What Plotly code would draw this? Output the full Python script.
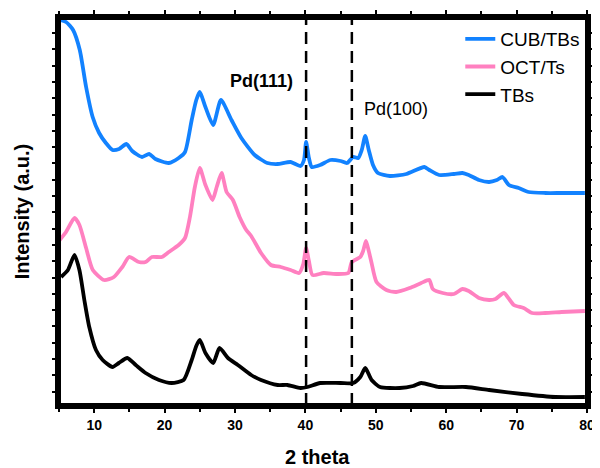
import plotly.graph_objects as go

# ---------------- data (2 theta, intensity a.u.) ----------------
cub_x = [5.1, 6.0, 7.0, 7.95, 8.85, 9.78, 10.7, 11.66, 12.6, 13.54, 14.57, 15.4, 16.8, 17.8, 18.7,
         20.6, 22.0, 22.9, 23.85, 24.5, 25.0, 25.8, 26.9, 28.0, 29.5, 30.9, 32.8, 34.6, 36.05, 37.9,
         39.3, 39.8, 40.1, 40.5, 40.9, 42.1, 43.55, 45.0, 45.9, 46.8, 47.5, 48.0, 48.5, 49.0, 49.6,
         50.3, 52.0, 54.35, 56.9, 57.6, 59.0, 61.1, 62.3, 63.2, 64.65, 66.1, 67.2, 68.0, 68.9,
         70.3, 71.7, 74.05, 76.4, 79.7]
cub_y = [386, 384, 376, 356, 319, 289, 273, 263, 256, 257, 262, 255, 249, 252, 247,
         243, 248, 254, 286, 306, 314, 299, 281, 306, 286, 268, 251, 243, 242, 244,
         240, 246, 264, 248, 239, 241, 246, 245, 243, 249, 248, 256, 270, 256, 241,
         233, 230, 232, 239, 236, 231, 232, 233, 231, 226, 224, 226, 229, 221,
         218, 214, 213, 213, 213]

oct_x = [5.1, 6.0, 7.2, 7.9, 8.85, 9.8, 11.4, 12.8, 14.0, 14.95, 16.35, 17.3, 18.2, 19.6,
         20.6, 22.0, 22.9, 23.6, 24.3, 25.0, 25.8, 26.8, 27.4, 28.1, 28.8, 29.7, 30.65, 31.6,
         32.3, 33.7, 35.1, 36.5, 37.9, 39.1, 39.7, 40.1, 40.5, 41.0, 42.6, 44.5, 46.1, 46.6,
         47.8, 48.2, 48.6, 49.0, 49.4, 50.1, 51.5, 52.9, 54.8, 56.45, 57.6, 58.1, 59.5, 61.1,
         62.3, 63.2, 64.65, 66.1, 67.0, 68.2, 69.6, 71.0, 72.2, 74.05, 76.4, 79.7]
oct_y = [166, 174, 188, 181, 158, 136, 126, 129, 139, 149, 144, 144, 149, 149,
         154, 161, 168, 189, 219, 238, 221, 206, 219, 233, 214, 206, 189, 176,
         170, 153, 141, 139, 136, 133, 142, 158, 145, 131, 133, 132, 133, 144,
         149, 155, 165, 155, 143, 124, 116, 114, 118, 123, 126, 117, 113, 112,
         117, 115, 108, 106, 107, 113, 101, 98, 93, 93, 94, 95]

tbs_x = [5.3, 6.27, 7.2, 7.9, 8.6, 9.3, 10.25, 11.2, 12.6, 13.5, 14.7, 15.9, 17.3, 19.2,
         21.0, 22.7, 23.85, 24.5, 25.0, 25.8, 26.9, 27.8, 29.0, 30.4, 32.3, 33.7, 36.05, 37.45,
         39.3, 40.3, 42.1, 45.0, 46.8, 47.8, 48.5, 49.4, 50.6, 53.4, 55.3, 56.45, 59.0,
         62.8, 66.1, 70.8, 75.5, 79.7]
tbs_y = [129, 136, 151, 136, 106, 79, 56, 46, 39, 43, 48, 41, 33, 26,
         23, 26, 46, 60, 66, 53, 43, 58, 48, 41, 31, 26, 21, 21,
         18, 19, 23, 23, 23, 29, 38, 26, 19, 18, 20, 23, 19,
         19, 16, 12, 9, 9]

series_names = ["CUB/TBs", "OCT/Ts", "TBs"]
series_colors = ["#1282ff", "#ff80c0", "#000000"]

pd_peaks = [40.1, 46.6]
pd_labels = ["Pd(111)", "Pd(100)"]

x_ticks = [10, 20, 30, 40, 50, 60, 70, 80]
x_title = "2 theta"
y_title = "Intensity (a.u.)"

FONT = "Liberation Sans, Arial"

# ---------------- figure ----------------
fig = go.Figure()
for name, xs, ys, col in zip(series_names, [cub_x, oct_x, tbs_x], [cub_y, oct_y, tbs_y], series_colors):
    fig.add_trace(go.Scatter(x=xs, y=ys, mode="lines", name=name,
                             line=dict(color=col, width=3.8, shape="spline", smoothing=0.6)))

for p in pd_peaks:
    fig.add_shape(type="line", x0=p, x1=p, xref="x", y0=0, y1=1, yref="paper",
                  line=dict(color="black", width=2.5, dash="12px,7px"))

# thick plot frame
fig.add_shape(type="rect", xref="paper", yref="paper", x0=0, x1=1, y0=0, y1=1,
              line=dict(color="black", width=4), layer="above")

fig.add_annotation(x=33.7, y=325, xref="x", yref="y", text="<b>" + pd_labels[0] + "</b>", showarrow=False,
                   font=dict(family=FONT, size=18, color="black"))
fig.add_annotation(x=52.8, y=297, xref="x", yref="y", text=pd_labels[1], showarrow=False,
                   font=dict(family=FONT, size=18, color="black"))

# x-axis title
fig.add_annotation(x=0.4905, y=-0.134, xref="paper", yref="paper", text="<b>" + x_title + "</b>",
                   showarrow=False, xanchor="center", yanchor="middle",
                   font=dict(family=FONT, size=20, color="black"))

axis_font = dict(family=FONT, size=14, color="black")
fig.update_layout(
    width=592, height=460,
    margin=dict(l=51, r=13, t=10, b=63),
    paper_bgcolor="white", plot_bgcolor="white",
    font=dict(family=FONT, color="black"),
    showlegend=True,
    legend=dict(x=0.76, y=0.995, xanchor="left", yanchor="top",
                bgcolor="rgba(0,0,0,0)", borderwidth=0,
                font=dict(family=FONT, size=19, color="black"),
                tracegroupgap=0),
    xaxis=dict(range=[5, 80], tickvals=x_ticks, ticktext=[f"<b>{t}</b>" for t in x_ticks],
               showgrid=False, zeroline=False, showline=True, linecolor="black", linewidth=4,
               mirror="allticks", ticks="outside", ticklen=4, tickwidth=2, tickcolor="black",
               minor=dict(dtick=5, tick0=0, ticks="outside", ticklen=3, tickwidth=2, tickcolor="black"),
               tickfont=axis_font, ticklabelstandoff=0, automargin=False),
    yaxis=dict(range=[1, 388], tick0=14.4, dtick=16.3, showticklabels=False,
               showgrid=False, zeroline=False, showline=True, linecolor="black", linewidth=4,
               mirror="allticks", ticks="outside", ticklen=3, tickwidth=2, tickcolor="black",
               automargin=False,
               title=dict(text="<b>" + y_title + "</b>", font=dict(family=FONT, size=20),
                          standoff=18)),
)

fig.write_html("out.html")
